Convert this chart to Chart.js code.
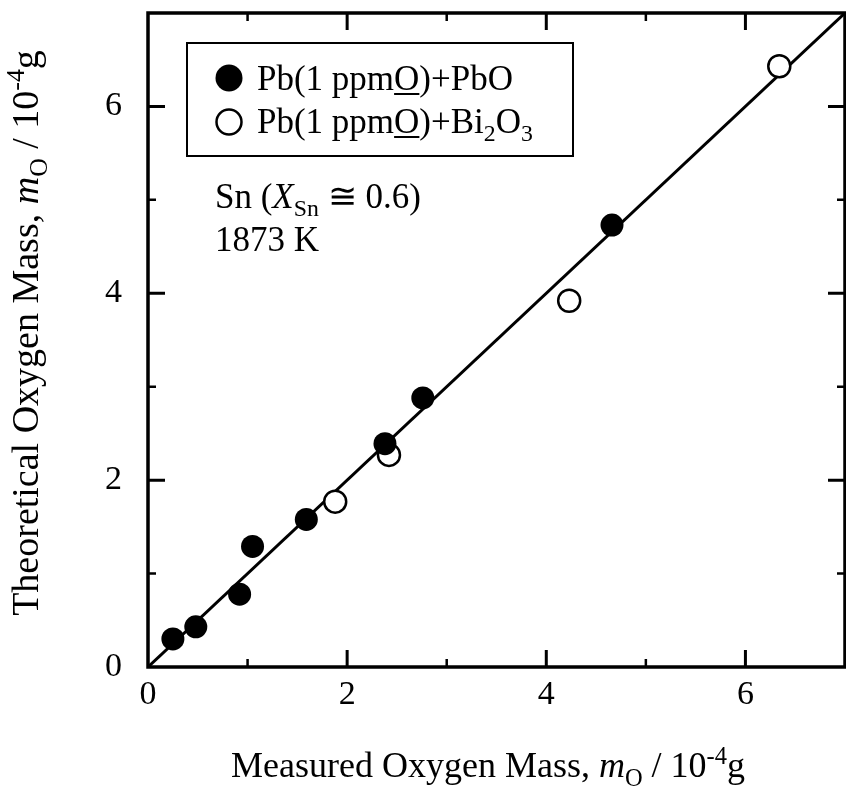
<!DOCTYPE html>
<html>
<head>
<meta charset="utf-8">
<script src="https://cdn.jsdelivr.net/npm/chart.js@4.4.1/dist/chart.umd.min.js"></script>
<style>
  html, body { margin: 0; padding: 0; background: #fff; }
  #wrap { width: 846px; height: 791px; }
</style>
</head>
<body>
<div id="wrap"><canvas id="chart" width="846" height="791"></canvas></div>
<script>
// Pb(1 ppmO)+PbO  (filled circles)
const pboX = [0.25, 0.48, 0.92, 1.05, 1.59, 2.38, 2.76, 4.66];
const pboY = [0.30, 0.43, 0.78, 1.29, 1.58, 2.39, 2.88, 4.73];
// Pb(1 ppmO)+Bi2O3  (open circles)
const bi2o3X = [1.88, 2.42, 4.23, 6.34];
const bi2o3Y = [1.77, 2.27, 3.92, 6.43];
// y = x reference line
const lineX = [0, 7];
const lineY = [0, 7];
// axes
const axisMin = 0;
const axisMax = 7;
const tickStep = 1;

const SERIF = '"Liberation Serif", "Times New Roman", serif';

const toPoints = (xs, ys) => xs.map((x, i) => ({ x, y: ys[i] }));

// draws a run of text pieces with italics / sub / sup / underline
function richWidth(ctx, parts, size) {
  let w = 0;
  parts.forEach(p => {
    const s = (p.sub || p.sup) ? size * 0.68 : size;
    ctx.font = `${p.italic ? 'italic ' : ''}${s}px ${SERIF}`;
    w += ctx.measureText(p.t).width;
  });
  return w;
}

function drawRich(ctx, parts, x, y, size) {
  let cx = x;
  parts.forEach(p => {
    const s = (p.sub || p.sup) ? size * 0.68 : size;
    ctx.font = `${p.italic ? 'italic ' : ''}${s}px ${SERIF}`;
    let dy = 0;
    if (p.sub) dy = size * 0.24;
    if (p.sup) dy = -size * 0.36;
    ctx.fillText(p.t, cx, y + dy);
    const w = ctx.measureText(p.t).width;
    if (p.underline) {
      ctx.save();
      ctx.lineWidth = 2;
      ctx.beginPath();
      ctx.moveTo(cx, y + 4);
      ctx.lineTo(cx + w, y + 4);
      ctx.stroke();
      ctx.restore();
    }
    cx += w;
  });
}

const xTitle = [
  { t: 'Measured Oxygen Mass, ' }, { t: 'm', italic: true }, { t: 'O', sub: true },
  { t: ' / 10' }, { t: '-4', sup: true }, { t: 'g' }
];
const yTitle = [
  { t: 'Theoretical Oxygen Mass, ' }, { t: 'm', italic: true }, { t: 'O', sub: true },
  { t: ' / 10' }, { t: '-4', sup: true }, { t: 'g' }
];
const legendRow1 = [{ t: 'Pb(1 ppm' }, { t: 'O', underline: true }, { t: ')+PbO' }];
const legendRow2 = [
  { t: 'Pb(1 ppm' }, { t: 'O', underline: true }, { t: ')+Bi' }, { t: '2', sub: true },
  { t: 'O' }, { t: '3', sub: true }
];
const noteRow1 = [{ t: 'Sn (' }, { t: 'X', italic: true }, { t: 'Sn', sub: true }, { t: ' \u2245 0.6)' }];
const noteRow2 = [{ t: '1873 K' }];

// frame, inward ticks, legend, annotation and axis titles
const decorPlugin = {
  id: 'decor',
  afterDraw(chart) {
    const { ctx, chartArea: a, scales } = chart;
    ctx.save();
    ctx.strokeStyle = '#000';
    ctx.fillStyle = '#000';

    // frame
    ctx.lineWidth = 3.5;
    ctx.strokeRect(a.left, a.top, a.right - a.left, a.bottom - a.top);

    // inward ticks on all four sides
    for (let v = axisMin + tickStep; v < axisMax; v += tickStep) {
      const major = v % 2 === 0;
      const len = major ? 17 : 8;
      ctx.lineWidth = major ? 3 : 2.5;
      const px = scales.x.getPixelForValue(v);
      const py = scales.y.getPixelForValue(v);
      ctx.beginPath();
      ctx.moveTo(px, a.bottom); ctx.lineTo(px, a.bottom - len);
      ctx.moveTo(px, a.top); ctx.lineTo(px, a.top + len);
      ctx.moveTo(a.left, py); ctx.lineTo(a.left + len, py);
      ctx.moveTo(a.right, py); ctx.lineTo(a.right - len, py);
      ctx.stroke();
    }

    // legend box
    const lx = a.left + 39, ly = a.top + 30;
    ctx.lineWidth = 2;
    ctx.strokeRect(lx, ly, 386, 113);
    ctx.beginPath();
    ctx.arc(lx + 42, ly + 35, 13.5, 0, Math.PI * 2);
    ctx.fill();
    ctx.beginPath();
    ctx.arc(lx + 42, ly + 79, 12.5, 0, Math.PI * 2);
    ctx.fillStyle = '#fff';
    ctx.fill();
    ctx.lineWidth = 2.5;
    ctx.stroke();
    ctx.fillStyle = '#000';
    ctx.textBaseline = 'alphabetic';
    ctx.textAlign = 'left';
    drawRich(ctx, legendRow1, lx + 70, ly + 47, 35);
    drawRich(ctx, legendRow2, lx + 70, ly + 90, 35);

    // annotation
    drawRich(ctx, noteRow1, a.left + 67, a.top + 195, 35);
    drawRich(ctx, noteRow2, a.left + 67, a.top + 238, 35);

    // x axis title
    const xw = richWidth(ctx, xTitle, 36);
    drawRich(ctx, xTitle, 488 - xw / 2, 777, 36);

    // y axis title (rotated)
    const yw = richWidth(ctx, yTitle, 38);
    ctx.translate(38, 333);
    ctx.rotate(-Math.PI / 2);
    drawRich(ctx, yTitle, -yw / 2, 0, 38);
    ctx.restore();
  }
};

const tickFont = { family: SERIF, size: 34 };
const evenLabel = v => (v % 2 === 0 ? String(v) : '');

new Chart(document.getElementById('chart'), {
  type: 'scatter',
  data: {
    datasets: [
      {
        label: 'y = x',
        data: toPoints(lineX, lineY),
        showLine: true,
        borderColor: '#000',
        borderWidth: 3,
        pointRadius: 0,
        order: 3
      },
      {
        label: 'Pb(1 ppmO)+Bi2O3',
        data: toPoints(bi2o3X, bi2o3Y),
        backgroundColor: '#fff',
        borderColor: '#000',
        borderWidth: 2.5,
        pointRadius: 11,
        order: 2
      },
      {
        label: 'Pb(1 ppmO)+PbO',
        data: toPoints(pboX, pboY),
        backgroundColor: '#000',
        borderColor: '#000',
        borderWidth: 0,
        pointRadius: 11.5,
        order: 1
      }
    ]
  },
  options: {
    responsive: false,
    animation: false,
    layout: { autoPadding: false, padding: { top: 13, right: 1, left: 0, bottom: 0 } },
    plugins: {
      legend: { display: false },
      tooltip: { enabled: false }
    },
    scales: {
      x: {
        type: 'linear',
        min: axisMin,
        max: axisMax,
        grid: { display: false, drawTicks: false },
        border: { display: false },
        ticks: { stepSize: tickStep, color: '#000', font: tickFont, padding: 8, callback: evenLabel, maxRotation: 0 },
        afterFit: s => { s.height = 124; s.paddingLeft = 0; s.paddingRight = 0; }
      },
      y: {
        type: 'linear',
        min: axisMin,
        max: axisMax,
        grid: { display: false, drawTicks: false },
        border: { display: false },
        ticks: { stepSize: tickStep, color: '#000', font: tickFont, padding: 26, callback: evenLabel },
        afterFit: s => { s.width = 148; s.paddingTop = 0; s.paddingBottom = 0; }
      }
    }
  },
  plugins: [decorPlugin]
});
</script>
</body>
</html>
